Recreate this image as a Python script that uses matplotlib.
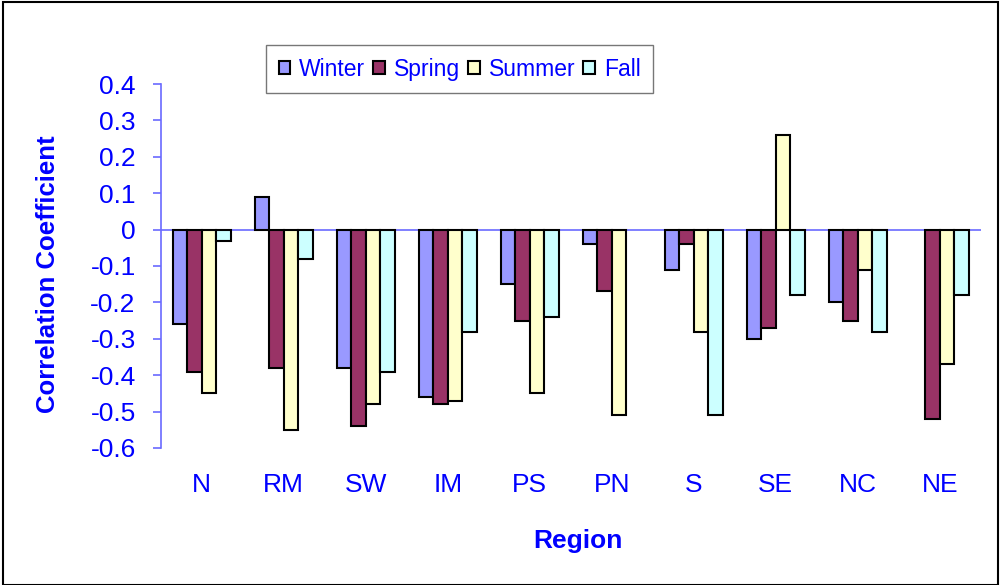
import numpy as np
import matplotlib
matplotlib.use("Agg")
import matplotlib.pyplot as plt
from matplotlib.patches import Rectangle

regions = ["N", "RM", "SW", "IM", "PS", "PN", "S", "SE", "NC", "NE"]
seasons = ["Winter", "Spring", "Summer", "Fall"]
winter = [-0.26, 0.09, -0.38, -0.46, -0.15, -0.04, -0.11, -0.30, -0.20, np.nan]
spring = [-0.39, -0.38, -0.54, -0.48, -0.25, -0.17, -0.04, -0.27, -0.25, -0.52]
summer = [-0.45, -0.55, -0.48, -0.47, -0.45, -0.51, -0.28, 0.26, -0.11, -0.37]
fall = [-0.03, -0.08, -0.39, -0.28, -0.24, np.nan, -0.51, -0.18, -0.28, -0.18]
yticks = [0.4, 0.3, 0.2, 0.1, 0, -0.1, -0.2, -0.3, -0.4, -0.5, -0.6]
ytick_labels = ["0.4", "0.3", "0.2", "0.1", "0", "-0.1", "-0.2", "-0.3", "-0.4", "-0.5", "-0.6"]

colors = ["#9999FF", "#993366", "#FFFFCC", "#CCFFFF"]
blue = "#0000FF"
axis_blue = "#6A6AFF"

plt.rcParams["font.family"] = ["Liberation Sans", "DejaVu Sans"]

fig = plt.figure(figsize=(10.02, 5.85), dpi=100)
ax = fig.add_axes([0.1604, 0.2342, 0.8186, 0.6222])

x = np.arange(len(regions))
w = 0.177
series = [winter, spring, summer, fall]
for i, (name, vals) in enumerate(zip(seasons, series)):
    ax.bar(x + (i - 1.5) * w, vals, w, color=colors[i], edgecolor="black",
           linewidth=1.5, label=name, zorder=2)

ax.axhline(0, color=axis_blue, linewidth=1.2, zorder=1)
ax.set_xlim(-0.5, 9.5)
ax.set_ylim(-0.6, 0.4)
ax.set_yticks(yticks)
ax.set_yticklabels(ytick_labels)
ax.set_xticks(x)
ax.set_xticklabels(regions)

for s in ["top", "right", "bottom"]:
    ax.spines[s].set_visible(False)
ax.spines["left"].set_color(axis_blue)
ax.spines["left"].set_linewidth(1.2)
ax.tick_params(axis="y", direction="out", length=6, width=1.2, color=axis_blue,
               labelcolor=blue, labelsize=19, pad=12)
ax.tick_params(axis="x", length=0, labelcolor=blue, labelsize=19, pad=18)

ax.set_ylabel("Correlation Coefficient", color=blue, fontsize=18.5,
              fontweight="bold", va="center")
ax.yaxis.set_label_coords(-0.1374, 0.477)
ax.set_xlabel("Region", color=blue, fontsize=19, fontweight="bold", va="center")
ax.xaxis.set_label_coords(0.509, -0.255)

leg = ax.legend(loc="upper left", bbox_to_anchor=(0.2655, 0.923),
                bbox_transform=fig.transFigure, ncol=4, borderaxespad=0,
                fontsize=16.5, frameon=True, fancybox=False, edgecolor="#555555",
                handlelength=0.5, handleheight=0.5, handletextpad=0.4,
                columnspacing=0.35, borderpad=0.55, labelcolor=blue)
leg.get_frame().set_linewidth(1.0)
for h in leg.legend_handles:
    h.set_linewidth(1.5)

fig.patches.append(Rectangle((0.003, 0.0), 0.993, 0.996, transform=fig.transFigure,
                             fill=False, edgecolor="black", linewidth=1.5))

fig.savefig("out.png", dpi=100)
